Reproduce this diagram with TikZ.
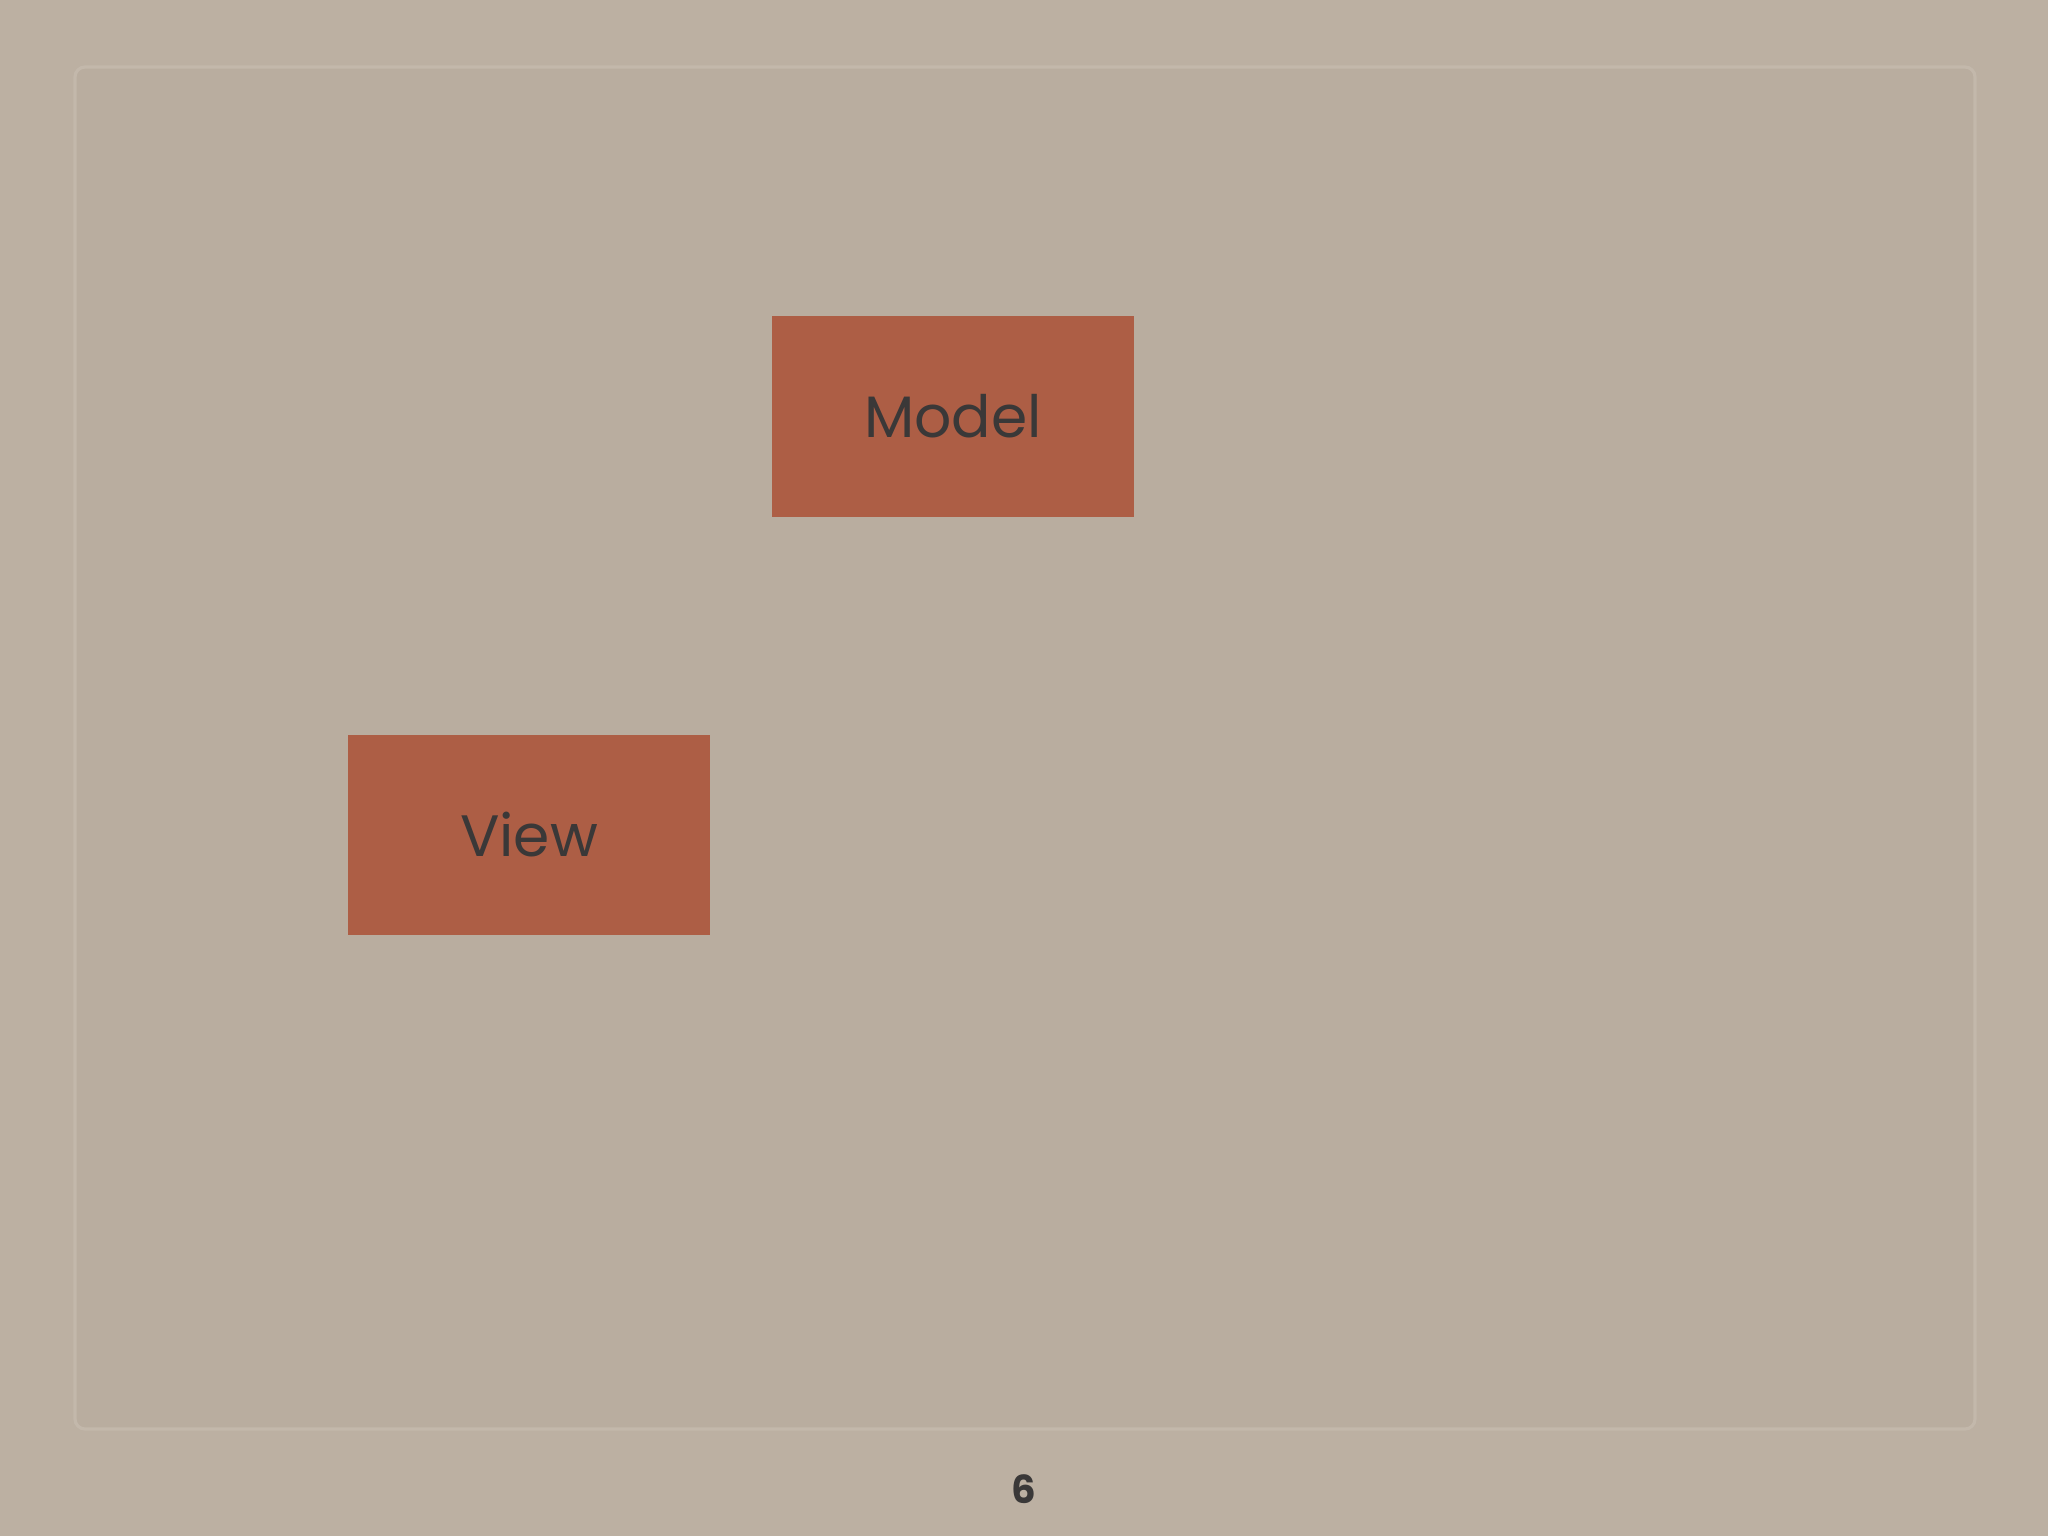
\documentclass[tikz,border=0pt]{standalone}
\usepackage{fontspec}
\setmainfont{Poppins}
\definecolor{bgc}{HTML}{BCB0A2}
\definecolor{framein}{HTML}{B9AD9F}
\definecolor{frameline}{HTML}{C3B8AB}
\definecolor{boxc}{HTML}{AD5E45}
\definecolor{txtc}{HTML}{3A3838}
\tikzset{
  block/.style={draw=none, fill=boxc, minimum width=3.62cm, minimum height=2.0cm, inner sep=0pt,
    text=txtc, font=\fontsize{16.6}{18}\selectfont},
}
\begin{document}
\begin{tikzpicture}[x=0.01cm,y=-0.01cm]
\fill[bgc] (0,0) rectangle (2048,1536);
\useasboundingbox (0,0) rectangle (2048,1536);
\draw[frameline, line width=0.9pt, fill=framein, rounded corners=0.1cm] (75,67) rectangle (1975,1429);
\node[block] (model) at (953,416.5) {Model};
\node[block] (view) at (529,835) {View};
\node[text=txtc, font=\bfseries\fontsize{11}{12}\selectfont] (page) at (1024,1489) {6};
\end{tikzpicture}
\end{document}
